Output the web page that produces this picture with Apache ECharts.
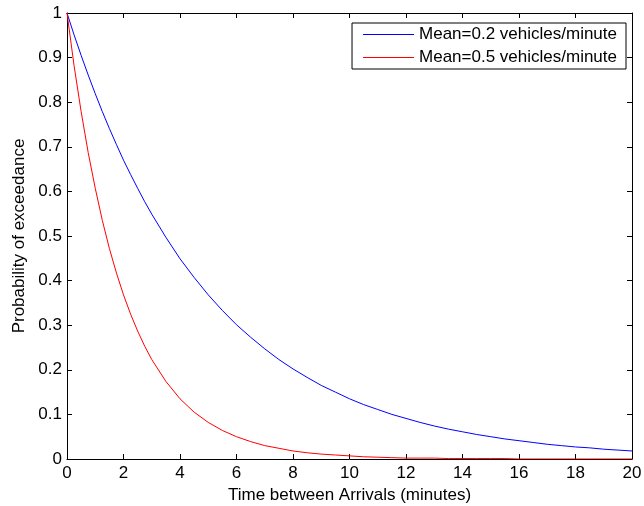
<!DOCTYPE html>
<html>
<head>
<meta charset="utf-8">
<script src="https://cdn.jsdelivr.net/npm/echarts@6/dist/echarts.min.js"></script>
<style>
  html, body {margin: 0; padding: 0; background: #fff;}
  #chart {width: 644px; height: 506px;}
</style>
</head>
<body>
<div id="chart"></div>
<script>
// time (minutes): quarter minutes at the steep start, then every half minute
const times = [0, 0.25, 0.5, 0.75, 1, 1.25, 1.5, 1.75, 2, 2.25, 2.5, 2.75, 3, 3.5, 4, 4.5, 5, 5.5, 6, 6.5,
  7, 7.5, 8, 8.5, 9, 9.5, 10, 10.5, 11, 11.5, 12, 12.5, 13, 13.5, 14, 14.5, 15, 15.5, 16, 16.5,
  17, 17.5, 18, 18.5, 19, 19.5, 20];
const meanLow = [1.000, 0.951, 0.905, 0.861, 0.819, 0.779, 0.741, 0.705, 0.670, 0.638, 0.607, 0.577,
  0.549, 0.497, 0.449, 0.407, 0.368, 0.333, 0.301, 0.273,
  0.247, 0.223, 0.202, 0.183, 0.165, 0.150, 0.135, 0.122, 0.111, 0.100,
  0.091, 0.082, 0.074, 0.067, 0.061, 0.055, 0.050, 0.045, 0.041, 0.037,
  0.033, 0.030, 0.027, 0.025, 0.022, 0.020, 0.018];
const meanHigh = [1.000, 0.882, 0.779, 0.687, 0.607, 0.535, 0.472, 0.417, 0.368, 0.325, 0.287, 0.253,
  0.223, 0.174, 0.135, 0.105, 0.082, 0.064, 0.050, 0.039,
  0.030, 0.024, 0.018, 0.014, 0.011, 0.009, 0.007, 0.005, 0.004, 0.003,
  0.002, 0.002, 0.002, 0.001, 0.001, 0.001, 0.001, 0.001, 0.000, 0.000,
  0.000, 0.000, 0.000, 0.000, 0.000, 0.000, 0.000];
const seriesNames = ['Mean=0.2 vehicles/minute', 'Mean=0.5 vehicles/minute'];

const font = 'Liberation Sans, Arial, Helvetica, sans-serif';
const black = '#000';
const fs = 17;

const chart = echarts.init(document.getElementById('chart'), null, {renderer: 'canvas'});

const baseAxis = {
  axisLine: {show: true, onZero: false, lineStyle: {color: black, width: 1}},
  axisTick: {show: true, inside: true, length: 5, lineStyle: {color: black}},
  splitLine: {show: false},
};

chart.setOption({
  animation: false,
  backgroundColor: '#fff',
  textStyle: {fontFamily: font},
  grid: {left: 67, right: 12, top: 13, bottom: 47, containLabel: false, outerBoundsMode: 'none'},
  legend: {
    orient: 'vertical',
    right: 18,
    top: 23,
    data: seriesNames,
    icon: 'rect',
    itemWidth: 51,
    itemHeight: 1,
    itemGap: 6,
    padding: [3, 9, 3, 11],
    borderColor: black,
    borderWidth: 1,
    borderRadius: 0,
    backgroundColor: '#fff',
    textStyle: {fontFamily: font, fontSize: fs, color: black, lineHeight: 17},
  },
  xAxis: [
    Object.assign({}, baseAxis, {
      type: 'value', min: 0, max: 20, interval: 2, position: 'bottom',
      axisLabel: {color: black, fontSize: fs, fontFamily: font, margin: 6},
      name: 'Time between Arrivals (minutes)',
      nameLocation: 'middle',
      nameGap: 26,
      nameTextStyle: {color: black, fontSize: fs, fontFamily: font},
    }),
    Object.assign({}, baseAxis, {
      type: 'value', min: 0, max: 20, interval: 2, position: 'top',
      axisLabel: {show: false},
    }),
  ],
  yAxis: [
    Object.assign({}, baseAxis, {
      type: 'value', min: 0, max: 1, interval: 0.1, position: 'left',
      axisLabel: {
        color: black, fontSize: fs, fontFamily: font, margin: 5,
        formatter: v => String(Math.round(v * 10) / 10),
      },
      name: 'Probability of exceedance',
      nameLocation: 'middle',
      nameGap: 39,
      nameRotate: 90,
      nameTextStyle: {color: black, fontSize: fs, fontFamily: font},
    }),
    Object.assign({}, baseAxis, {
      type: 'value', min: 0, max: 1, interval: 0.1, position: 'right',
      axisLabel: {show: false},
    }),
  ],
  series: [
    {
      name: seriesNames[0],
      type: 'line',
      data: times.map((t, i) => [t, meanLow[i]]),
      symbol: 'none',
      color: '#0000ff',
      lineStyle: {width: 1, color: '#0000ff'},
      z: 3,
    },
    {
      name: seriesNames[1],
      type: 'line',
      data: times.map((t, i) => [t, meanHigh[i]]),
      symbol: 'none',
      color: '#ff0000',
      lineStyle: {width: 1, color: '#ff0000'},
      z: 3,
    },
  ],
});
</script>
</body>
</html>
